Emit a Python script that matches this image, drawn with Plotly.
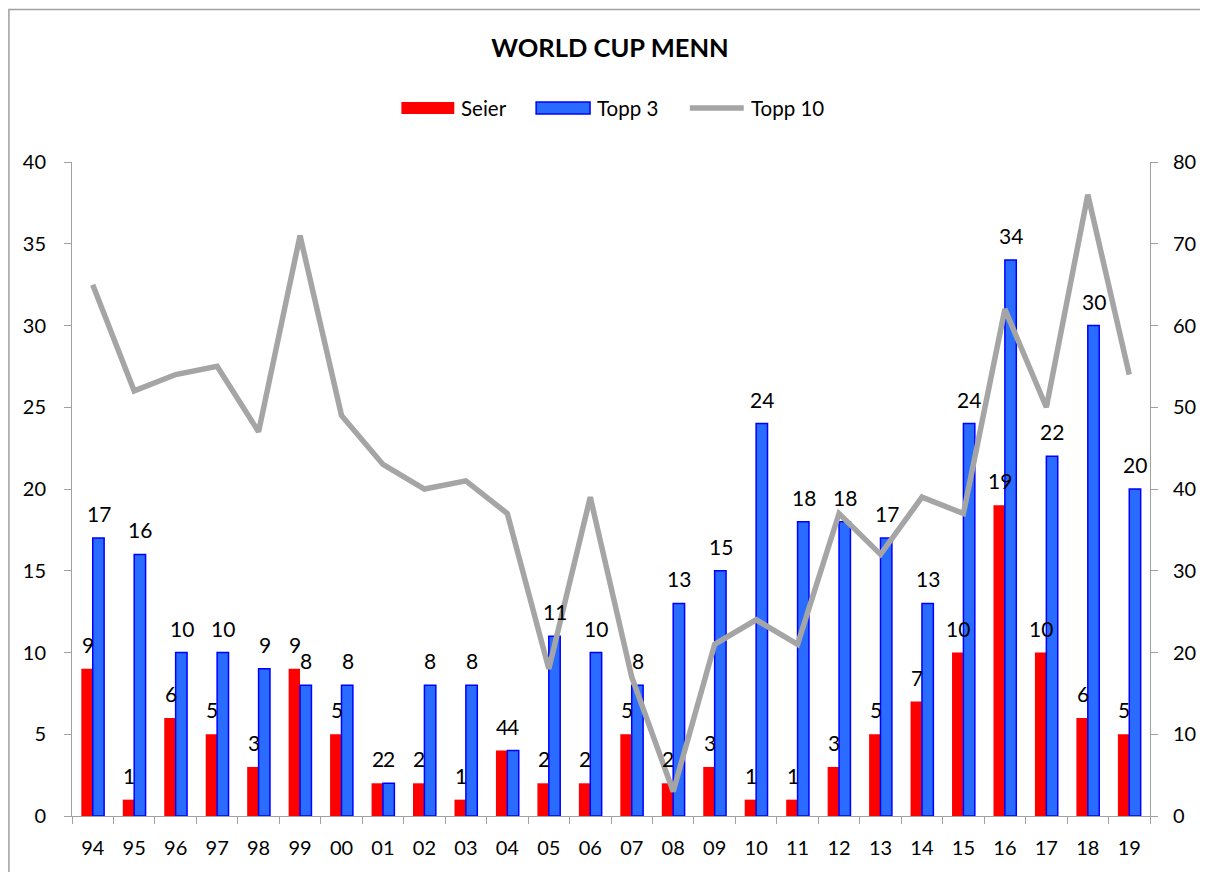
import plotly.graph_objects as go

years = ["94", "95", "96", "97", "98", "99", "00", "01", "02", "03", "04", "05", "06",
         "07", "08", "09", "10", "11", "12", "13", "14", "15", "16", "17", "18", "19"]
seier = [9, 1, 6, 5, 3, 9, 5, 2, 2, 1, 4, 2, 2, 5, 2, 3, 1, 1, 3, 5, 7, 10, 19, 10, 6, 5]
topp3 = [17, 16, 10, 10, 9, 8, 8, 2, 8, 8, 4, 11, 10, 8, 13, 15, 24, 18, 18, 17, 13, 24, 34, 22, 30, 20]
topp10 = [65, 52, 54, 55, 47, 71, 49, 43, 40, 41, 37, 18, 39, 17, 3, 21, 24, 21, 37, 32, 39, 37, 62, 50, 76, 54]

FONT = "Lato, 'Noto Sans', sans-serif"
OFF = 8  # page body margin
W, H = 1208 - OFF, 872 - OFF
L, R, T, B = 72 - OFF, 1208 - 1152, 162 - OFF, 872 - 816
pw, ph = W - L - R, H - T - B


def px_x(x):
    return (x - OFF - L) / pw


def px_y(y):
    return (H - B - (y - OFF)) / ph


fig = go.Figure()
fig.add_trace(go.Bar(x=years, y=seier, name="Seier",
                     marker=dict(color="#FF0000", line=dict(width=0))))
fig.add_trace(go.Bar(x=years, y=topp3, name="Topp 3",
                     marker=dict(color="#2A6CFF", line=dict(color="#0000FF", width=1.5))))
fig.add_trace(go.Scatter(x=years, y=topp10, name="Topp 10", mode="lines", yaxis="y2",
                         line=dict(color="#A5A5A5", width=5.5)))

# data labels, lifted above the bars like Excel does (x as category index)
for i, v in enumerate(seier):
    fig.add_annotation(x=i, y=v, text=str(v), xshift=-5, yshift=10, yanchor="bottom",
                       showarrow=False, font=dict(size=21, color="black"))
for i, v in enumerate(topp3):
    fig.add_annotation(x=i, y=v, text=str(v), xshift=6, yshift=10, yanchor="bottom",
                       showarrow=False, font=dict(size=21, color="black"))

# outer chart border
fig.add_shape(type="rect", xref="paper", yref="paper",
              x0=px_x(8.8), x1=px_x(1215), y0=px_y(880), y1=px_y(9.5),
              line=dict(color="#A0A0A0", width=1.5), layer="below")

# legend drawn by hand (Excel-style wide swatches)
ly = 108
fig.add_shape(type="rect", xref="paper", yref="paper",
              x0=px_x(402), x1=px_x(455), y0=px_y(114), y1=px_y(102),
              fillcolor="#FF0000", line=dict(width=0))
fig.add_shape(type="rect", xref="paper", yref="paper",
              x0=px_x(537), x1=px_x(591), y0=px_y(114), y1=px_y(102),
              fillcolor="#2A6CFF", line=dict(color="#0000FF", width=1.5))
fig.add_shape(type="line", xref="paper", yref="paper",
              x0=px_x(691), x1=px_x(745), y0=px_y(ly), y1=px_y(ly),
              line=dict(color="#A5A5A5", width=5.5))
for label, x in [("Seier", 460), ("Topp 3", 596), ("Topp 10", 750)]:
    fig.add_annotation(text=label, xref="paper", yref="paper", x=px_x(x), y=px_y(ly),
                       xanchor="left", yanchor="middle", showarrow=False,
                       font=dict(size=20.5, color="black"))

axis_common = dict(showline=True, linecolor="#A0A0A0", linewidth=1, ticks="outside",
                   ticklen=7, tickcolor="#A0A0A0", showgrid=False, zeroline=False,
                   tickfont=dict(size=20))

fig.update_layout(
    width=W, height=H,
    margin=dict(l=L, r=R, t=T, b=B),
    paper_bgcolor="white", plot_bgcolor="white",
    font=dict(family=FONT, size=20, color="black"),
    title=dict(text="<b>WORLD CUP MENN</b>", x=px_x(611), xanchor="center",
               xref="paper", y=1 - (48 - OFF) / H, yanchor="middle",
               font=dict(size=25.5, color="black")),
    barmode="group", bargap=0.45, bargroupgap=0,
    showlegend=False,
    xaxis=dict(type="category", range=[-0.5, len(years) - 0.5], tickson="boundaries",
               ticklabelstandoff=14, tickangle=0, **axis_common),
    yaxis=dict(range=[0, 40], dtick=5, ticklabelstandoff=14, **axis_common),
    yaxis2=dict(range=[0, 80], dtick=10, overlaying="y", side="right",
                ticklabelstandoff=11, **axis_common),
)

fig.write_html("out.html")
